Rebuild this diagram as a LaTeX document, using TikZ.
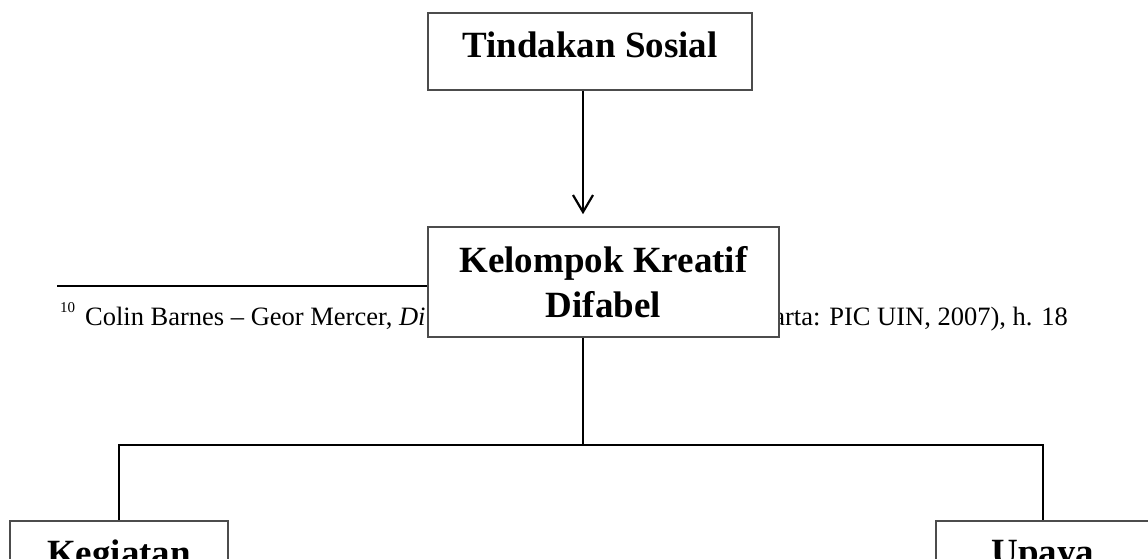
\documentclass[tikz,border=0pt]{standalone}
\usepackage{fontspec}
\setmainfont{Liberation Serif}
\usetikzlibrary{calc}
\usetikzlibrary{arrows.meta}

\begin{document}
\begin{tikzpicture}[x=1pt, y=-1pt,
        box/.style={draw=black!70, line width=1.6pt, fill=white, inner sep=0pt,
            align=center, font=\fontsize{37}{45}\selectfont\bfseries},
        lowbox/.style={box, minimum height=77pt, text depth=14pt},
        link/.style={line width=2.2pt}]
            \useasboundingbox (0,0) rectangle (1148,559);
            % footnote behind the middle box
            \draw[line width=2pt] (57,286) -- (430,286);
            \node[anchor=base west, inner sep=0pt, font=\fontsize{26.5}{30}\selectfont] (fnleft) at (60,325)
                {\raisebox{13pt}{\fontsize{15}{15}\selectfont 10}\hspace{10pt}Colin Barnes – Geor Mercer, \textit{Di}};
            \node[anchor=base east, inner sep=0pt, font=\fontsize{26.5}{30}\selectfont] (fnright) at (1068,325)
                {arta: PIC UIN, 2007), h. 18};
            \node[lowbox, minimum width=324pt] (tindakan) at (590,51.5) {Tindakan Sosial};
            \node[box, minimum width=351pt, minimum height=110pt] (kelompok) at (603.5,282) {Kelompok Kreatif\\Difabel};
            \node[lowbox, minimum width=218pt] (kegiatan) at (119,559.5) {Kegiatan};
            \node[lowbox, minimum width=214pt] (upaya) at (1043,559.5) {Upaya};
            \coordinate (branch) at (583,445);
            \draw[link, -{Straight Barb[length=17pt, width=20pt]}, shorten >=12pt]
                (tindakan.south -| branch) -- (kelompok.north -| branch);
            \draw[link] (kelompok.south -| branch) -- (branch);
            \draw[link] (kegiatan.north) |- (branch) -| (upaya.north);
        \end{tikzpicture}
\end{document}
